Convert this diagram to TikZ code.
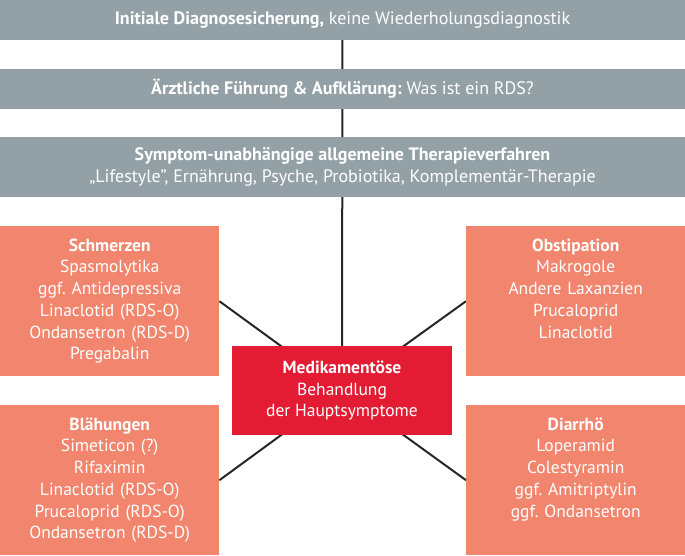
\documentclass[tikz,border=0pt]{standalone}
\usepackage{fontspec}
\setmainfont{PT Sans}
\usetikzlibrary{backgrounds}
\definecolor{bargray}{RGB}{147,161,167}
\definecolor{salmon}{RGB}{241,133,110}
\definecolor{medred}{RGB}{227,28,52}
\frenchspacing
\tikzset{bar/.style = {fill = bargray, text = white, minimum width = 685pt, align = center, inner sep = 0pt, font = \fontsize{18}{22}\selectfont}}
\tikzset{symptom/.style = {fill = salmon, text = white, anchor = north west, text width = 209pt, inner xsep = 5pt, inner ysep = 0pt, align = center, text height = 25pt, text depth = 125pt, font = \fontsize{17.5}{21.7}\selectfont}}
\tikzset{medbox/.style = {fill = medred, text = white, minimum width = 220pt, minimum height = 89pt, align = center, inner sep = 0pt, font = \fontsize{17.5}{21.7}\selectfont}}
\tikzset{link/.style = {line width = 2pt, draw = black!85}}

\begin{document}
\begin{tikzpicture}[x = 1pt, y = -1pt]
				\useasboundingbox (0, 0) rectangle (685, 555);

				\node[bar, minimum height = 40pt] (diag) at (342.5, 20) {\textbf{Initiale Diagnosesicherung,} keine Wiederholungsdiagnostik};
				\node[bar, minimum height = 40pt] (info) at (342.5, 88.5) {\textbf{Ärztliche Führung \& Aufklärung:} Was ist ein RDS?};
				\node[bar, minimum height = 60pt] (general) at (342.5, 167) {\textbf{Symptom-unabhängige allgemeine Therapieverfahren}\\„Lifestyle”, Ernährung, Psyche, Probiotika, Komplementär-Therapie};

				\node[symptom] (pain) at (0, 226) {\textbf{Schmerzen}\\Spasmolytika\\ggf. Antidepressiva\\Linaclotid (RDS-O)\\Ondansetron (RDS-D)\\Pregabalin};
				\node[symptom] (bloat) at (0, 405) {\textbf{Blähungen}\\Simeticon (?)\\Rifaximin\\Linaclotid (RDS-O)\\Prucaloprid (RDS-O)\\Ondansetron (RDS-D)};
				\node[symptom] (obst) at (466, 226) {\textbf{Obstipation}\\Makrogole\\Andere Laxanzien\\Prucaloprid\\Linaclotid};
				\node[symptom] (diarr) at (466, 405) {\textbf{Diarrhö}\\Loperamid\\Colestyramin\\ggf. Amitriptylin\\ggf. Ondansetron};

				\node[medbox] (med) at (342, 390.5) {\textbf{Medikamentöse}\\Behandlung\\der Hauptsymptome};

				\begin{pgfonlayer}{background}
				\draw[link] (diag.center) -- (med.center);
				\draw[link] (med.center) -- (pain.east);
				\draw[link] (med.center) -- (bloat.east);
				\draw[link] (med.center) -- (obst.west);
				\draw[link] (med.center) -- (diarr.west);
				\end{pgfonlayer}
			\end{tikzpicture}
\end{document}
